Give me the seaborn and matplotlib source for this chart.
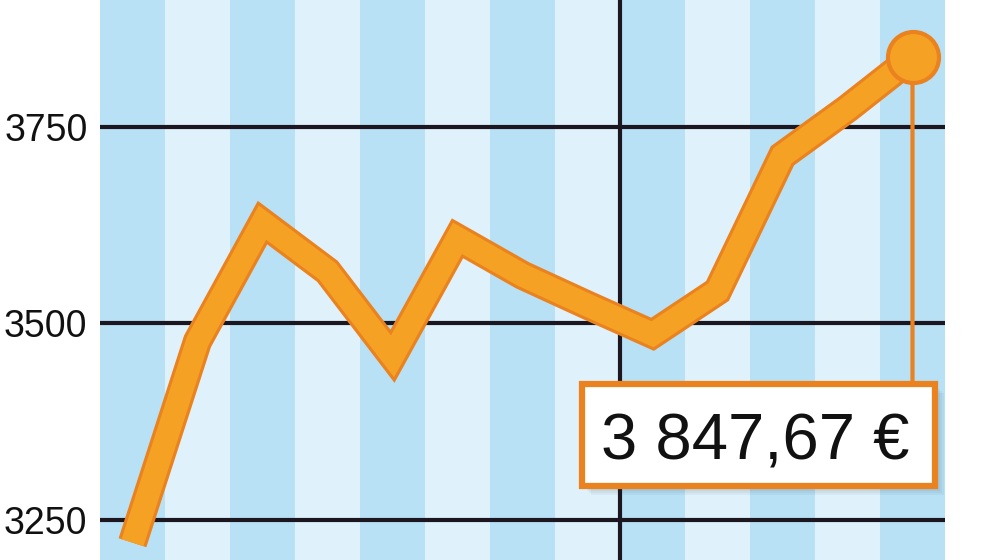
import matplotlib
matplotlib.use("Agg")
import matplotlib.pyplot as plt
import matplotlib.transforms as mtransforms
from matplotlib.patches import Rectangle
from matplotlib import font_manager
import seaborn as sns
import pandas as pd

# ---- data ----
periods = list(range(13))
values = [3221, 3477, 3628, 3566, 3458, 3608, 3561, 3523, 3486, 3541, 3713, 3773, 3838]
ytick_values = [3250, 3500, 3750]
ytick_labels = ["3250", "3500", "3750"]
last_label = "3 847,67 €"

# ---- style ----
sns.set_theme(style="white")
installed = {f.name for f in font_manager.fontManager.ttflist}
family = "Liberation Sans" if "Liberation Sans" in installed else "DejaVu Sans"
plt.rcParams["font.family"] = [family, "DejaVu Sans"]

DARK_STRIPE = "#b8e1f6"
LIGHT_STRIPE = "#dff2fb"
GRID = "#1b1620"
FILL = "#f5a224"
EDGE = "#e9821f"

fig = plt.figure(figsize=(10, 5.6), dpi=100)
ax = fig.add_axes([0.1, 0.0, 0.845, 1.0])

df = pd.DataFrame({"period": periods, "value": values})

for i in periods:
    ax.axvspan(i - 0.5, i + 0.5, color=DARK_STRIPE if i % 2 == 0 else LIGHT_STRIPE,
               lw=0, zorder=0)

ax.set_xlim(periods[0] - 0.5, periods[-1] + 0.5)
ax.set_ylim(3199, 3911)

for y in ytick_values:
    ax.axhline(y, color=GRID, lw=3, zorder=1)
ax.axvline(periods[7] + 0.5, color=GRID, lw=3, zorder=1)

sns.lineplot(data=df, x="period", y="value", ax=ax, color=EDGE, lw=21, zorder=3,
             solid_joinstyle="miter", solid_capstyle="butt")
sns.lineplot(data=df, x="period", y="value", ax=ax, color=FILL, lw=16.5, zorder=4,
             solid_joinstyle="miter", solid_capstyle="butt")

# connector from last point down to the label box
ax.annotate("", xy=(periods[-1], values[-1]), xytext=(0, -327), textcoords="offset pixels",
            arrowprops=dict(arrowstyle="-", color=EDGE, lw=3, shrinkA=0, shrinkB=0),
            zorder=5)

sns.scatterplot(x=[periods[-1]], y=[values[-1]], ax=ax, s=1350, color=FILL,
                edgecolor=EDGE, linewidth=3, zorder=6, legend=False)

ax.set_yticks(ytick_values, ytick_labels, fontsize=27, color="#111111")
ax.set_xticks([])
ax.tick_params(axis="y", length=0, pad=9)
ax.set_xlabel("")
ax.set_ylabel("")
for s in ax.spines.values():
    s.set_visible(False)

# label box positioned relative to the last data point (display pixels)
fig.canvas.draw()
px, py = ax.transData.transform((periods[-1], values[-1]))
ident = mtransforms.IdentityTransform()
bx0, bx1 = px - 331, px + 22
by0, by1 = py - 429, py - 327
for k, a in enumerate([0.05, 0.05, 0.05, 0.05]):
    off = 3 + 2 * k
    fig.add_artist(Rectangle((bx0 + off, by0 - off), bx1 - bx0, by1 - by0,
                             transform=ident, facecolor="#2a3a4a", alpha=a, lw=0,
                             zorder=7))
fig.add_artist(Rectangle((bx0, by0), bx1 - bx0, by1 - by0, transform=ident,
                         facecolor="white", edgecolor=EDGE, lw=4.5, zorder=8))
fig.text(px - 157, py - 402, last_label, transform=ident, ha="center", va="baseline",
         fontsize=47, color="#111111", zorder=9)

fig.savefig("out.png", dpi=100, facecolor="white")
